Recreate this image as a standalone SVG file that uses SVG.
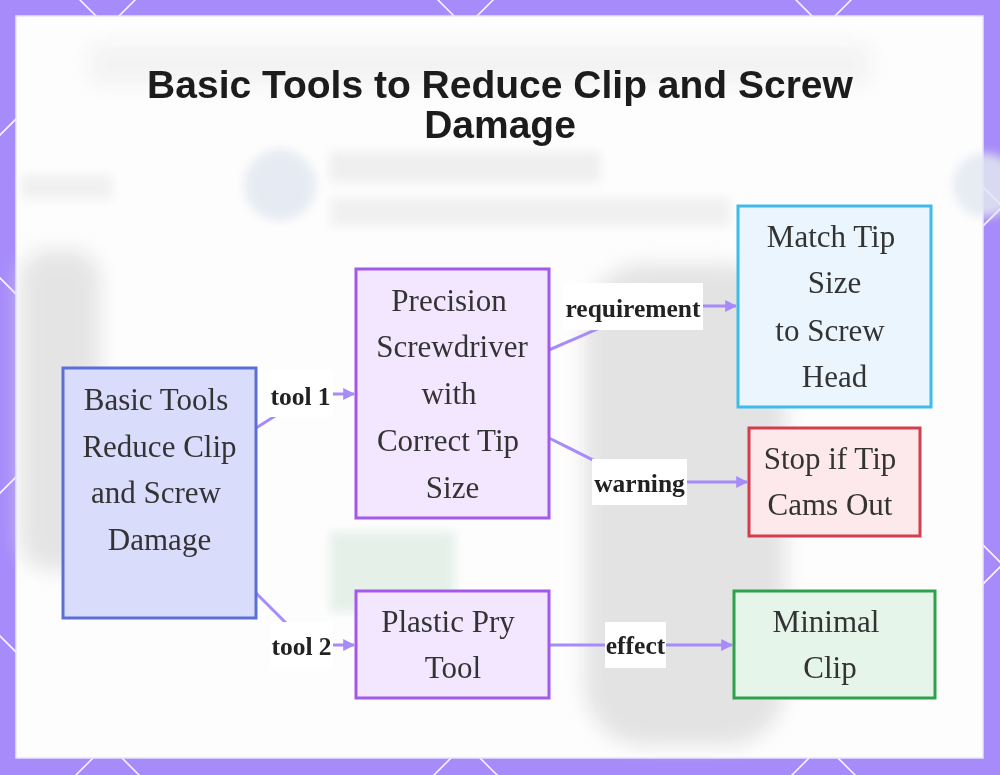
<svg xmlns="http://www.w3.org/2000/svg" width="1000" height="775" viewBox="0 0 1000 775">
  <defs>
    <style>
      .lat { stroke: #ffffff; stroke-width: 1.6; opacity: 0.9; }
      .node rect { stroke-width: 3; }
      .ntext { font-family: "Liberation Serif", "Times New Roman", serif; font-size: 31px; fill: #333333; text-anchor: middle; }
      .ltext { font-family: "Liberation Serif", "Times New Roman", serif; font-size: 25.5px; font-weight: bold; fill: #222222; text-anchor: middle; }
      .lbg { fill: #ffffff; }
      .edge { fill: none; stroke: #a78bfa; stroke-width: 3; }
      .title { font-family: "Liberation Sans", Arial, sans-serif; font-size: 39px; font-weight: bold; fill: #1c1c1c; text-anchor: middle; }
    </style>
    <filter id="blur" x="-50%" y="-50%" width="200%" height="200%">
      <feGaussianBlur stdDeviation="10"/>
    </filter>
    <filter id="blur2" x="-50%" y="-50%" width="200%" height="200%">
      <feGaussianBlur stdDeviation="5"/>
    </filter>
    <marker id="arrow" viewBox="0 0 10 10" refX="9" refY="5" markerWidth="4" markerHeight="4" orient="auto">
      <path d="M0,0 L10,5 L0,10 z" fill="#a78bfa"/>
    </marker>
  </defs>

  <!-- border background with lattice -->
  <rect x="0" y="0" width="1000" height="775" fill="#a78bfa"/>
  <g id="lattice">
    <line class="lat" x1="-656" y1="-20" x2="164" y2="800"/>
    <line class="lat" x1="-298" y1="-20" x2="522" y2="800"/>
    <line class="lat" x1="60" y1="-20" x2="880" y2="800"/>
    <line class="lat" x1="418" y1="-20" x2="1238" y2="800"/>
    <line class="lat" x1="776" y1="-20" x2="1596" y2="800"/>
    <line class="lat" x1="155" y1="-20" x2="-665" y2="800"/>
    <line class="lat" x1="513" y1="-20" x2="-307" y2="800"/>
    <line class="lat" x1="871" y1="-20" x2="51" y2="800"/>
    <line class="lat" x1="1229" y1="-20" x2="409" y2="800"/>
    <line class="lat" x1="1587" y1="-20" x2="767" y2="800"/>
  </g>

  <!-- panel -->
  <rect x="16" y="16" width="967" height="742" fill="#fdfdfd" stroke="#e9e2fd" stroke-width="1.5"/>
  <g id="backdrop" opacity="0.85">
    <rect x="90" y="45" width="780" height="40" fill="#f1f1f1" filter="url(#blur)"/>
    <circle cx="280" cy="185" r="36" fill="#e2e8f1" filter="url(#blur2)"/>
    <rect x="330" y="152" width="270" height="30" fill="#ececec" filter="url(#blur2)"/>
    <rect x="330" y="198" width="400" height="28" fill="#eeeeee" filter="url(#blur2)"/>
    <rect x="22" y="175" width="90" height="24" fill="#eeeeee" filter="url(#blur2)"/>
    <circle cx="985" cy="185" r="32" fill="#e3e8f0" filter="url(#blur2)"/>
    <rect x="20" y="250" width="80" height="320" rx="30" fill="#e0e0e0" filter="url(#blur)"/>
    <rect x="585" y="265" width="200" height="480" rx="60" fill="#dedede" filter="url(#blur)"/>
    <rect x="330" y="532" width="125" height="80" fill="#e1eee6" filter="url(#blur2)"/>
  </g>

  <!-- title -->
  <g id="title">
    <text class="title" x="500" y="98">Basic Tools to Reduce Clip and Screw</text>
    <text class="title" x="500" y="138">Damage</text>
  </g>

  <!-- connectors -->
  <g id="connectors">
    <path class="edge" d="M256,428 L310,394 L354,394" marker-end="url(#arrow)"/>
    <path class="edge" d="M256,593 L308,645 L354,645" marker-end="url(#arrow)"/>
    <path class="edge" d="M549,350 L650,306 L736,306" marker-end="url(#arrow)"/>
    <path class="edge" d="M549,438 L637,482 L747,482" marker-end="url(#arrow)"/>
    <path class="edge" d="M549,645 L732,645" marker-end="url(#arrow)"/>
    <g id="label-tool1"><rect class="lbg" x="268" y="370" width="65" height="47"/><text class="ltext" x="300.5" y="405">tool 1</text></g>
    <g id="label-tool2"><rect class="lbg" x="270" y="622" width="63" height="46"/><text class="ltext" x="301.5" y="655">tool 2</text></g>
    <g id="label-req"><rect class="lbg" x="563" y="283" width="140" height="47"/><text class="ltext" x="633" y="317">requirement</text></g>
    <g id="label-warn"><rect class="lbg" x="592" y="459" width="95" height="46"/><text class="ltext" x="639.5" y="492">warning</text></g>
    <g id="label-effect"><rect class="lbg" x="605" y="622" width="61" height="46"/><text class="ltext" x="635.5" y="654">effect</text></g>
  </g>

  <!-- nodes -->
  <g id="node-basic" class="node">
    <rect x="63" y="368" width="193" height="250" fill="#d9dcfb" stroke="#5b70d6"/>
    <text class="ntext" x="156" y="410">Basic Tools</text>
    <text class="ntext" x="159.5" y="457">Reduce Clip</text>
    <text class="ntext" x="156" y="503">and Screw</text>
    <text class="ntext" x="159.5" y="550">Damage</text>
  </g>
  <g id="node-precision" class="node">
    <rect x="356" y="269" width="193" height="249" fill="#f2e7fe" stroke="#a259ec"/>
    <text class="ntext" x="449" y="311">Precision</text>
    <text class="ntext" x="452" y="357">Screwdriver</text>
    <text class="ntext" x="449" y="404">with</text>
    <text class="ntext" x="448" y="451">Correct Tip</text>
    <text class="ntext" x="452.5" y="498">Size</text>
  </g>
  <g id="node-match" class="node">
    <rect x="738" y="206" width="193" height="201" fill="#eaf5fe" stroke="#3ebbea"/>
    <text class="ntext" x="831" y="247">Match Tip</text>
    <text class="ntext" x="834.5" y="293">Size</text>
    <text class="ntext" x="830" y="341">to Screw</text>
    <text class="ntext" x="834.5" y="387">Head</text>
  </g>
  <g id="node-stop" class="node">
    <rect x="749" y="428" width="171" height="108" fill="#fde8eb" stroke="#d23e4c"/>
    <text class="ntext" x="830" y="469">Stop if Tip</text>
    <text class="ntext" x="830" y="515">Cams Out</text>
  </g>
  <g id="node-pry" class="node">
    <rect x="356" y="591" width="193" height="107" fill="#f2e7fe" stroke="#a259ec"/>
    <text class="ntext" x="448" y="632">Plastic Pry</text>
    <text class="ntext" x="453" y="678">Tool</text>
  </g>
  <g id="node-minimal" class="node">
    <rect x="734" y="591" width="201" height="107" fill="#e6f5ea" stroke="#2fa14c"/>
    <text class="ntext" x="826" y="632">Minimal</text>
    <text class="ntext" x="830" y="678">Clip</text>
  </g>
</svg>
